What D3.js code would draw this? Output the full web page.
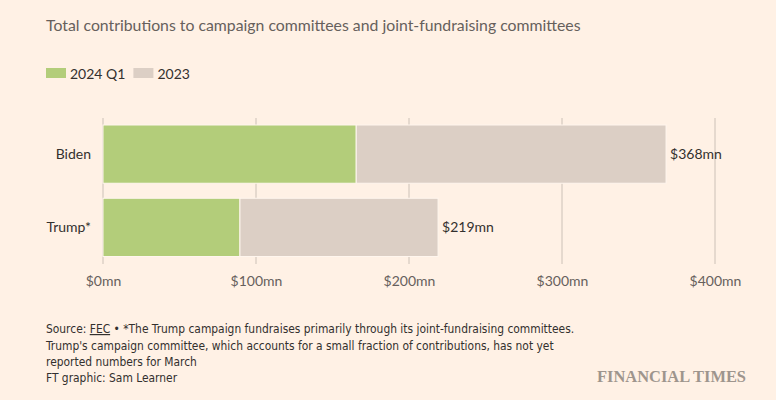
<!DOCTYPE html>
<html>
<head>
<meta charset="utf-8">
<script src="https://cdn.jsdelivr.net/npm/d3@7"></script>
<style>
  html, body { margin: 0; padding: 0; background: #fff1e5; }
  svg { display: block; }
  .tick text { font-family: Lato, "Noto Sans", sans-serif; }
</style>
</head>
<body>
<svg id="chart" width="776" height="400"></svg>
<script>
// data
var candidates = ['Biden', 'Trump*'];
var q1Values = [165.5, 89.5];      // 2024 Q1, $mn
var prevValues = [202.5, 129.5];   // 2023, $mn
var totalLabels = ['$368mn', '$219mn'];
var xTicks = [0, 100, 200, 300, 400];
var seriesNames = ['2024 Q1', '2023'];
var seriesColors = ['#b3cd7a', '#dccfc5'];

var footLines = [
  '*The Trump campaign fundraises primarily through its joint-fundraising committees.',
  "Trump's campaign committee, which accounts for a small fraction of contributions, has not yet",
  'reported numbers for March',
  'FT graphic: Sam Learner'
];

var svg = d3.select('#chart');
var sans = 'Lato, "Noto Sans", sans-serif';
var narrow = '"Liberation Sans Narrow", "DejaVu Sans Condensed", sans-serif';

svg.append('rect').attr('width', 776).attr('height', 400).attr('fill', '#fff1e5');

// title
svg.append('text').attr('x', 46).attr('y', 31)
  .attr('font-family', sans).attr('font-size', 15.8).attr('fill', '#66605c')
  .text('Total contributions to campaign committees and joint-fundraising committees');

// legend
var lx = 46;
seriesNames.forEach(function(name, i) {
  svg.append('rect').attr('x', lx).attr('y', 68).attr('width', 20).attr('height', 10)
    .attr('fill', seriesColors[i]);
  var t = svg.append('text').attr('x', lx + 24).attr('y', 79)
    .attr('font-family', sans).attr('font-size', 14).attr('fill', '#33302e')
    .text(name);
  lx += 24 + t.node().getComputedTextLength() + 8;
});

// scales
var x = d3.scaleLinear().domain([0, 400]).range([103, 715]);
var y = d3.scaleBand().domain(candidates).range([125, 256.5]).paddingInner(0.205).paddingOuter(0);

// grid
svg.append('g').selectAll('line').data(xTicks).enter().append('line')
  .attr('x1', function(d) { return x(d); }).attr('x2', function(d) { return x(d); })
  .attr('y1', 118).attr('y2', 264)
  .attr('stroke', '#ccc1b7').attr('stroke-width', 1);

// stacked bars
var rows = candidates.map(function(c, i) {
  return { name: c, q1: q1Values[i], prev: prevValues[i], label: totalLabels[i] };
});
var stack = d3.stack().keys(['q1', 'prev'])(rows);

svg.append('g').selectAll('g').data(stack).enter().append('g')
  .attr('fill', function(d, i) { return seriesColors[i]; })
  .selectAll('rect').data(function(d) { return d; }).enter().append('rect')
  .attr('x', function(d) { return x(d[0]); })
  .attr('width', function(d) { return x(d[1]) - x(d[0]); })
  .attr('y', function(d) { return y(d.data.name); })
  .attr('height', y.bandwidth())
  .attr('stroke', '#fff6ee').attr('stroke-width', 1);

// total labels
svg.append('g').selectAll('text').data(rows).enter().append('text')
  .attr('x', function(d) { return x(d.q1 + d.prev) + 4; })
  .attr('y', function(d) { return y(d.name) + y.bandwidth() / 2 + 5; })
  .attr('font-family', sans).attr('font-size', 14).attr('fill', '#33302e')
  .text(function(d) { return d.label; });

// category labels
svg.append('g').selectAll('text').data(candidates).enter().append('text')
  .attr('x', 91).attr('text-anchor', 'end')
  .attr('y', function(d) { return y(d) + y.bandwidth() / 2 + 5; })
  .attr('font-family', sans).attr('font-size', 14).attr('fill', '#33302e')
  .text(function(d) { return d; });

// x axis
var xAxis = svg.append('g').attr('transform', 'translate(0,264)')
  .call(d3.axisBottom(x).tickValues(xTicks).tickSize(0).tickPadding(12)
    .tickFormat(function(d) { return '$' + d + 'mn'; }));
xAxis.select('.domain').remove();
xAxis.selectAll('text').attr('font-size', 14).attr('fill', '#66605c');

// footer
var footSize = 11.9;
var src = svg.append('text').attr('x', 46).attr('y', 333)
  .attr('font-family', narrow).attr('font-size', footSize).attr('fill', '#33302e');
src.append('tspan').text('Source: ');
src.append('tspan').attr('text-decoration', 'underline').text('FEC');
src.append('tspan').text(' \u2022 ' + footLines[0]);

footLines.slice(1).forEach(function(line, i) {
  svg.append('text').attr('x', 46).attr('y', 350 + i * 16)
    .attr('font-family', narrow).attr('font-size', footSize).attr('fill', '#33302e')
    .text(line);
});

svg.append('text').attr('x', 746).attr('y', 382).attr('text-anchor', 'end')
  .attr('font-family', '"Liberation Serif", "DejaVu Serif", serif')
  .attr('font-size', 17).attr('font-weight', 'bold').attr('fill', '#9e958d')
  .attr('textLength', 149).attr('lengthAdjust', 'spacingAndGlyphs')
  .text('FINANCIAL TIMES');
</script>
</body>
</html>
